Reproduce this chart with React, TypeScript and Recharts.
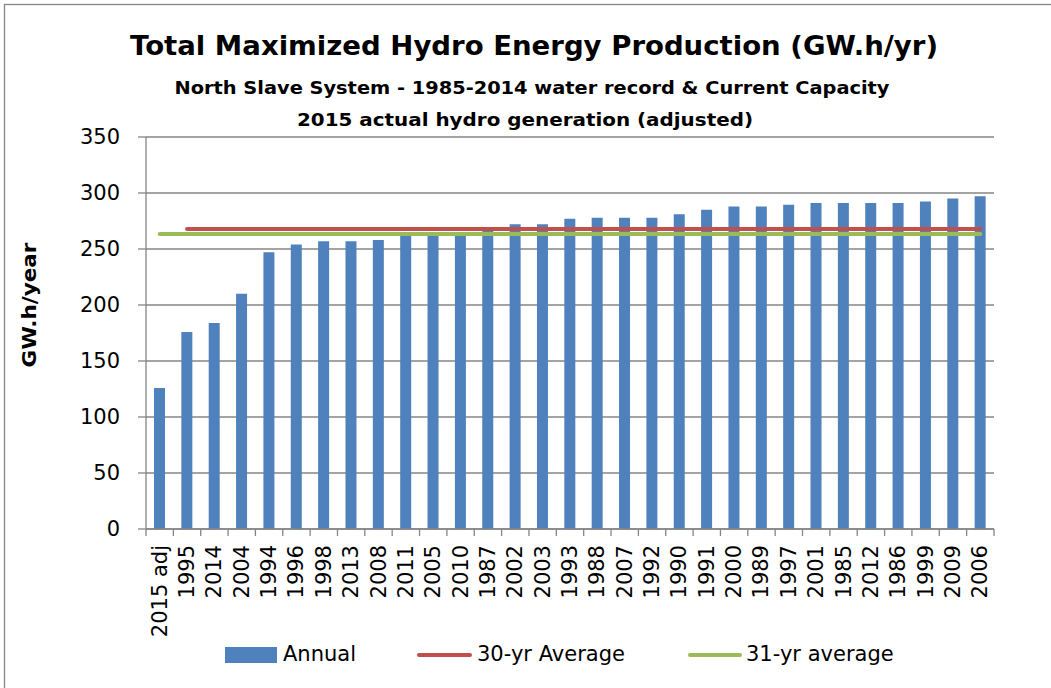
import React from "react";
import {
  ComposedChart,
  Bar,
  Line,
  XAxis,
  YAxis,
  CartesianGrid,
  Legend,
} from "recharts";

const categories = [
  "2015 adj", "1995", "2014", "2004", "1994", "1996", "1998", "2013",
  "2008", "2011", "2005", "2010", "1987", "2002", "2003", "1993",
  "1988", "2007", "1992", "1990", "1991", "2000", "1989", "1997",
  "2001", "1985", "2012", "1986", "1999", "2009", "2006",
];

const annual = [
  126, 176, 184, 210, 247, 254, 257, 257, 258, 263, 264, 265, 269, 272, 272,
  277, 278, 278, 278, 281, 285, 288, 288, 289.5, 291, 291, 291, 291, 292.5,
  295, 297,
];

// horizontal reference levels; the 30-yr one skips the 2015 adjusted year
const avg30 = 267.8;
const avg31 = 263.3;

const yTicks = [0, 50, 100, 150, 200, 250, 300, 350];

const data = categories.map((name, i) => ({
  name,
  annual: annual[i],
  avg30: i === 0 ? null : avg30,
  avg31,
}));

const FONT = "'DejaVu Sans', 'Open Sans', sans-serif";
const GRID = "#868686";
const BLUE = "#4F81BD";
const RED = "#C0504D";
const GREEN = "#9BBB59";

const XTick = (props: any) => {
  const { x, y, payload, index } = props;
  const half = payload?.offset || 848 / categories.length / 2;
  const axisY = y - 16;
  return (
    <g>
      <line x1={x - half} x2={x - half} y1={axisY} y2={axisY + 7} stroke={GRID} strokeWidth={1.3} />
      {index === categories.length - 1 && (
        <line x1={x + half} x2={x + half} y1={axisY} y2={axisY + 7} stroke={GRID} strokeWidth={1.3} />
      )}
      <text
        x={x}
        y={y}
        transform={`rotate(-90, ${x}, ${y})`}
        textAnchor="end"
        dominantBaseline="central"
        fontFamily={FONT}
        fontSize={21}
        fill="#000"
      >
        {payload.value}
      </text>
    </g>
  );
};

const renderLegend = () => {
  const txt: React.CSSProperties = {
    position: "absolute",
    top: 0,
    lineHeight: "31px",
    fontFamily: FONT,
    fontSize: 21,
    color: "#000",
    whiteSpace: "nowrap",
  };
  return (
    <div style={{ position: "relative", height: 31, width: 1051 }}>
      <div style={{ position: "absolute", left: 225, top: 8, width: 52, height: 16, background: BLUE }} />
      <span style={{ ...txt, left: 283 }}>Annual</span>
      <div style={{ position: "absolute", left: 417, top: 14, width: 55, height: 4, borderRadius: 2, background: RED }} />
      <span style={{ ...txt, left: 477 }}>30-yr Average</span>
      <div style={{ position: "absolute", left: 688, top: 14, width: 54, height: 4, borderRadius: 2, background: GREEN }} />
      <span style={{ ...txt, left: 746 }}>31-yr average</span>
    </div>
  );
};

export default function App() {
  return (
    <div style={{ position: "absolute", left: 0, top: 0, width: 1051, height: 688, background: "#fff", overflow: "hidden" }}>
      <ComposedChart
        width={1051}
        height={688}
        data={data}
        margin={{ top: 137, right: 57, bottom: 18, left: 0 }}
        barCategoryGap={0}
      >
        <CartesianGrid vertical={false} stroke={GRID} strokeWidth={1.3} />
        <XAxis
          dataKey="name"
          interval={0}
          height={110}
          tickLine={false}
          tickSize={7}
          tickMargin={9}
          axisLine={{ stroke: GRID, strokeWidth: 1.3 }}
          tick={<XTick />}
        />
        <YAxis
          width={146}
          domain={[0, 350]}
          ticks={yTicks}
          interval={0}
          tickSize={8}
          tickMargin={18}
          tickLine={{ stroke: GRID, strokeWidth: 1.3 }}
          axisLine={{ stroke: GRID, strokeWidth: 1.3 }}
          tick={{ fontFamily: FONT, fontSize: 21, fill: "#000" }}
        />
        <Legend
          verticalAlign="bottom"
          content={renderLegend}
          wrapperStyle={{ left: 0, width: 1051, height: 31, bottom: 18 }}
        />
        <Bar dataKey="annual" name="Annual" fill={BLUE} barSize={11} isAnimationActive={false} />
        <Line
          dataKey="avg30"
          name="30-yr Average"
          stroke={RED}
          strokeWidth={4}
          strokeLinecap="round"
          dot={false}
          isAnimationActive={false}
        />
        <Line
          dataKey="avg31"
          name="31-yr average"
          stroke={GREEN}
          strokeWidth={4}
          strokeLinecap="round"
          dot={false}
          isAnimationActive={false}
        />
      </ComposedChart>
      <svg
        width={1051}
        height={688}
        style={{ position: "absolute", left: 0, top: 0, pointerEvents: "none" }}
      >
        <rect x={4.5} y={4.5} width={1100} height={1000} fill="none" stroke={GRID} strokeWidth={1.3} />
        <text x={534} y={55} textAnchor="middle" fontFamily={FONT} fontWeight="bold" fontSize={26}
          textLength={808} lengthAdjust="spacingAndGlyphs">
          Total Maximized Hydro Energy Production  (GW.h/yr)
        </text>
        <text x={532} y={94} textAnchor="middle" fontFamily={FONT} fontWeight="bold" fontSize={17}
          textLength={715} lengthAdjust="spacingAndGlyphs">
          North Slave System - 1985-2014 water record &amp; Current Capacity
        </text>
        <text x={525} y={126} textAnchor="middle" fontFamily={FONT} fontWeight="bold" fontSize={17}
          textLength={456} lengthAdjust="spacingAndGlyphs">
          2015 actual hydro generation (adjusted)
        </text>
        <text x={36} y={305} textAnchor="middle" fontFamily={FONT} fontWeight="bold" fontSize={20}
          textLength={125} lengthAdjust="spacingAndGlyphs"
          transform="rotate(-90, 36, 305)">
          GW.h/year
        </text>
      </svg>
    </div>
  );
}
